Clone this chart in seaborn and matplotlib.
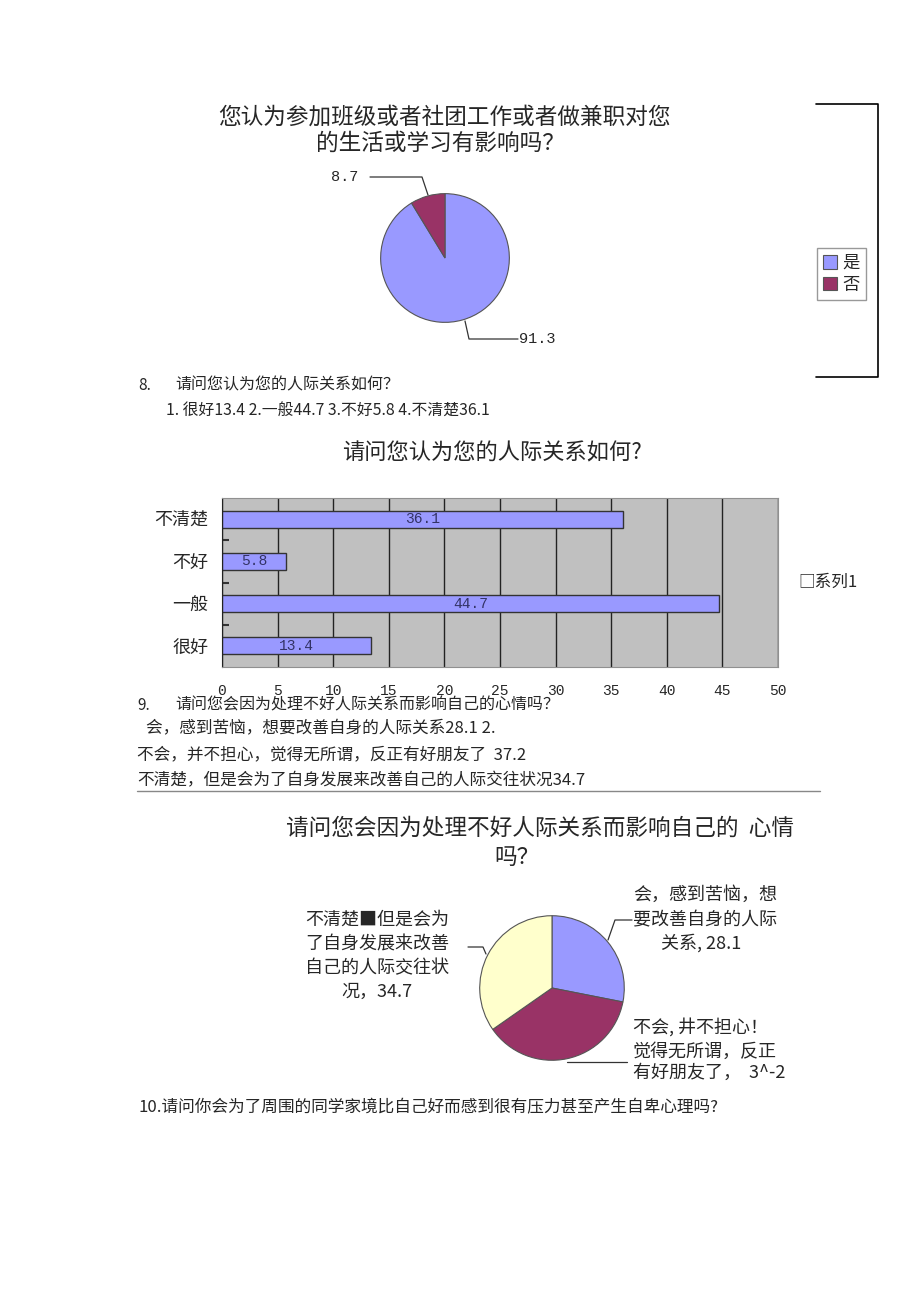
import matplotlib
matplotlib.use('Agg')
import matplotlib.pyplot as plt
import pandas as pd
import seaborn as sns

# data
pie1_labels = ['是', '否']
pie1_values = [91.3, 8.7]
pie1_colors = ['#9999FF', '#993366']

bar_cats = ['不清楚', '不好', '一般', '很好']
bar_values = [36.1, 5.8, 44.7, 13.4]
bar_ticks = [0, 5, 10, 15, 20, 25, 30, 35, 40, 45, 50]

pie2_labels = ['会', '不会', '不清楚']
pie2_values = [28.1, 37.2, 34.7]
pie2_colors = ['#9999FF', '#993366', '#FFFFCC']

sns.set_style('white')
plt.rcParams['font.family'] = ['Noto Sans CJK SC', 'DejaVu Sans']

W, H = 920, 1302
fig = plt.figure(figsize=(9.2, 13.02), dpi=100)


def box(left, top, w, h):
    # pixel box (from top-left) -> figure fraction
    return [left / W, 1 - (top + h) / H, w / W, h / H]


# page layer for the running text and leader lines
page = fig.add_axes([0, 0, 1, 1])
page.set_xlim(0, W)
page.set_ylim(H, 0)
page.axis('off')

mono = 'Liberation Mono'
line_kw = dict(color='#333333', lw=0.9)

# ---- chart 1: pie ----
page.text(444, 117, '您认为参加班级或者社团工作或者做兼职对您', ha='center', va='center', fontsize=16.3)
page.text(440, 143, '的生活或学习有影响吗？', ha='center', va='center', fontsize=16.3)

ax1 = fig.add_axes(box(380, 193, 130, 130))
wedges1, _ = ax1.pie(pie1_values, colors=pie1_colors, startangle=90, counterclock=False,
                     wedgeprops=dict(edgecolor='#555555', linewidth=0.8))
ax1.set_xlim(-1.01, 1.01)
ax1.set_ylim(-1.01, 1.01)

page.text(358, 177, '8.7', ha='right', va='center', family=mono, fontsize=11)
page.plot([370, 422, 428], [177, 177, 195], **line_kw)
page.text(519, 339, '91.3', ha='left', va='center', family=mono, fontsize=11)
page.plot([465, 469, 518], [321, 339, 339], **line_kw)

fig.legend(wedges1, pie1_labels, loc='upper left', bbox_to_anchor=(817 / W, 1 - 248 / H),
           frameon=True, fancybox=False, edgecolor='#808080', fontsize=12.5,
           handlelength=0.8, handleheight=0.8, handletextpad=0.3, borderpad=0.35,
           labelspacing=0.2, borderaxespad=0)
page.plot([816, 878, 878, 816], [104, 104, 377, 377], color='black', lw=1.2)

# ---- question 8 text ----
page.text(138, 385, '8.', va='center', fontsize=11)
page.text(175, 385, '请问您认为您的人际关系如何？', va='center', fontsize=11.5)
page.text(166, 410, '1. 很好13.4 2.一般44.7 3.不好5.8 4.不清楚36.1', va='center', fontsize=11.4)

# ---- chart 2: horizontal bars ----
page.text(492, 453, '请问您认为您的人际关系如何?', ha='center', va='center', fontsize=16)

ax2 = fig.add_axes(box(222, 498, 556, 169))
df = pd.DataFrame({'cat': bar_cats, 'value': bar_values})
sns.barplot(data=df, x='value', y='cat', order=bar_cats, orient='h', color='#9999FF',
            saturation=1, width=0.4, edgecolor='#333333', linewidth=1, ax=ax2)
ax2.set_facecolor('#C0C0C0')
ax2.set_xlim(0, 50)
ax2.set_xticks(bar_ticks)
ax2.xaxis.grid(True, color='#222222', lw=1)
ax2.set_axisbelow(True)
ax2.set_xlabel('')
ax2.set_ylabel('')
ax2.tick_params(axis='x', length=0, pad=12, labelsize=10.5)
ax2.tick_params(axis='y', length=0, pad=10, labelsize=13)
for t in ax2.get_xticklabels():
    t.set_family(mono)
ax2.set_yticks([0.5, 1.5, 2.5], minor=True)
ax2.tick_params(axis='y', which='minor', direction='in', length=5, width=1.5, color='#333333', left=True)
for s in ax2.spines.values():
    s.set_color('#909090')
ax2.spines['left'].set_color('#222222')
ax2.bar_label(ax2.containers[0], labels=[f'{v}' for v in bar_values], label_type='center',
              fontsize=10.5, color='#333366', family=mono)
page.text(798, 582, '□系列1', va='center', fontsize=12)

# ---- question 9 text ----
page.text(137, 705, '9.', va='center', fontsize=11)
page.text(175, 705, '请问您会因为处理不好人际关系而影响自己的心情吗？', va='center', fontsize=11.5)
page.text(146, 729, '会，感到苦恼，想要改善自身的人际关系28.1 2.', va='center', fontsize=12)
page.text(137, 755, '不会，并不担心，觉得无所谓，反正有好朋友了  37.2', va='center', fontsize=12)
page.text(137, 781, '不清楚，但是会为了自身发展来改善自己的人际交往状况34.7', va='center', fontsize=12)
page.plot([137, 820], [791, 791], color='#888888', lw=1)

# ---- chart 3: pie ----
page.text(540, 828, '请问您会因为处理不好人际关系而影响自己的  心情', ha='center', va='center', fontsize=16.3)
page.text(517, 857, '吗？', ha='center', va='center', fontsize=16.3)

ax3 = fig.add_axes(box(479, 915, 146, 146))
ax3.pie(pie2_values, colors=pie2_colors, startangle=90, counterclock=False,
        wedgeprops=dict(edgecolor='#555555', linewidth=0.8))
ax3.set_xlim(-1.01, 1.01)
ax3.set_ylim(-1.01, 1.01)

lab_kw = dict(va='center', fontsize=13)
for y, s in zip([920, 945, 968, 992], ['不清楚■但是会为', '了自身发展来改善', '自己的人际交往状', '况，34.7']):
    page.text(377, y, s, ha='center', **lab_kw)
page.plot([468, 483, 486], [947, 947, 954], **line_kw)

for y, s in zip([895, 920], ['会，感到苦恼，想', '要改善自身的人际']):
    page.text(633, y, s, ha='left', **lab_kw)
page.text(701, 943, '关系, 28.1', ha='center', **lab_kw)
page.plot([632, 615, 608], [920, 920, 940], **line_kw)

for y, s in zip([1027, 1052, 1073], ['不会, 井不担心！', '觉得无所谓，反正', '有好朋友了，  3^-2']):
    page.text(633, y, s, ha='left', **lab_kw)
page.plot([567, 627], [1062, 1062], **line_kw)

# ---- question 10 text ----
page.text(139, 1108, '10.请问你会为了周围的同学家境比自己好而感到很有压力甚至产生自卑心理吗?', va='center', fontsize=12)

fig.savefig('out.png', dpi=100)
